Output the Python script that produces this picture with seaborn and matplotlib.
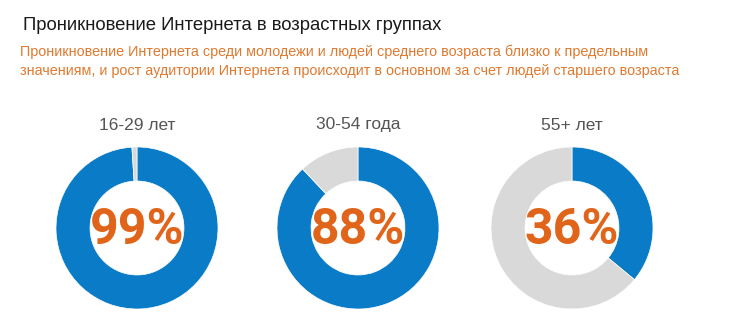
import matplotlib
matplotlib.use("Agg")
import matplotlib.pyplot as plt
import seaborn as sns

sns.set_theme(style="white")
plt.rcParams['font.family'] = ['Liberation Sans', 'DejaVu Sans']

# ---- data ----
title = "Проникновение Интернета в возрастных группах"
subtitle_lines = [
    "Проникновение Интернета среди молодежи и людей среднего возраста близко к предельным",
    "значениям, и рост аудитории Интернета происходит в основном за счет людей старшего возраста",
]
groups = ["16-29 лет", "30-54 года", "55+ лет"]
penetration = [99, 88, 36]

blue = "#0A7BC6"
grey = "#D9D9D9"
orange_big = "#E0651A"
orange_sub = "#E07A30"

W, H = 730, 334
fig = plt.figure(figsize=(W / 100, H / 100), dpi=100)
fig.patch.set_facecolor("white")

fig.text(23 / W, 1 - 26 / H, title, fontsize=13.3, color="#1a1a1a",
         va="center", ha="left")
for i, line in enumerate(subtitle_lines):
    fig.text(20 / W, 1 - (52 + 19 * i) / H, line, fontsize=10.4,
             color=orange_sub, va="center", ha="left")

centers_x = [137, 358, 572]
cy = 228
R = 81
for g, p, cx in zip(groups, penetration, centers_x):
    ax = fig.add_axes([(cx - R) / W, 1 - (cy + R) / H, 2 * R / W, 2 * R / H])
    ax.pie([p, 100 - p], colors=[blue, grey], startangle=90, counterclock=False,
           radius=1.0, wedgeprops=dict(width=0.42, edgecolor="white", linewidth=0.5))
    ax.set_xlim(-1, 1)
    ax.set_ylim(-1, 1)
    ax.set_aspect("equal")
    ax.axis("off")
    ax.text(0, -0.03, f"{p}%", ha="center", va="center", fontsize=36,
            fontweight="bold", color=orange_big, family=["Roboto", "DejaVu Sans"])
    fig.text(cx / W, 1 - 125 / H, g, ha="center", va="center", fontsize=12.5,
             color="#555555")

fig.savefig("out.png", dpi=100, facecolor="white")
